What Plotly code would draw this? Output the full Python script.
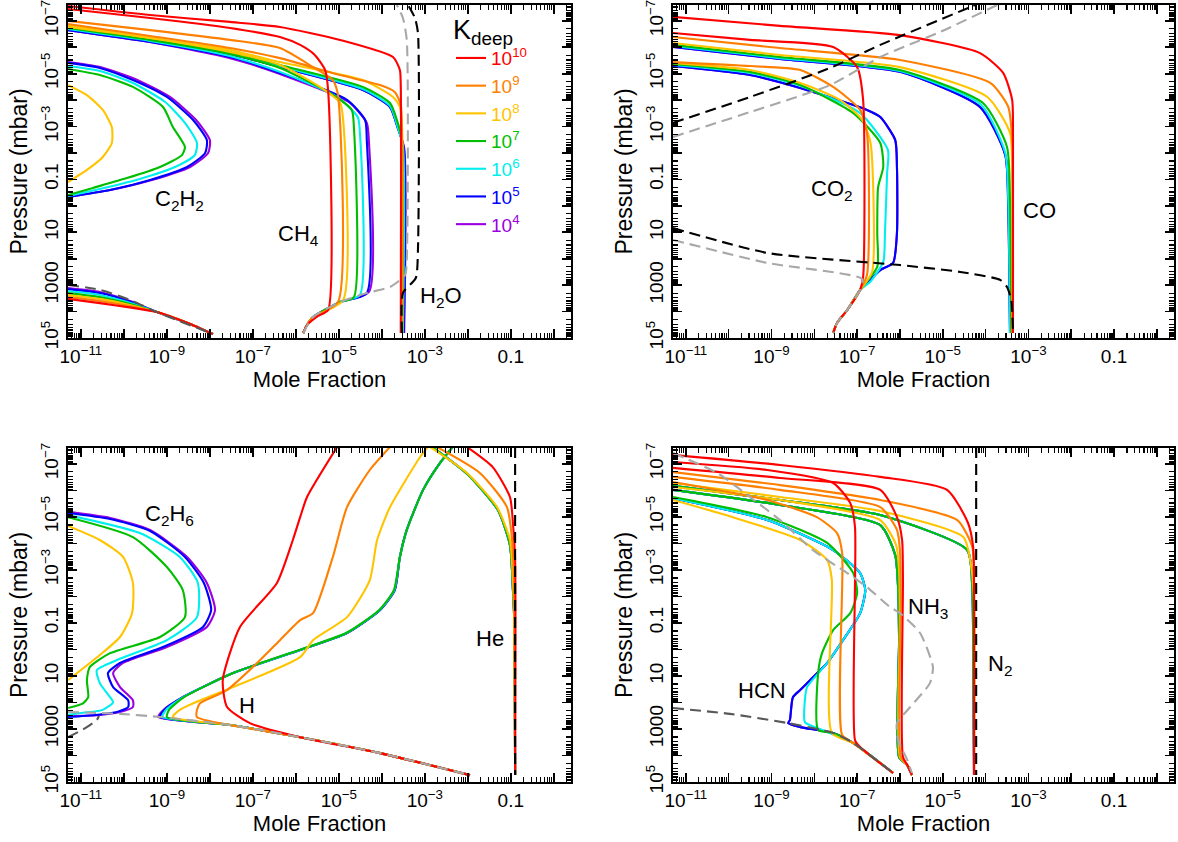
import plotly.graph_objects as go

# ---------------- data (log10 mole fraction, log10 pressure [mbar]) ----------------
K_LIST = [4, 5, 6, 7, 8, 9, 10]
K_COLOR = {10: "#FF0000", 9: "#FF7F00", 8: "#FFC400", 7: "#00BE00",
           6: "#00EEEE", 5: "#0000FF", 4: "#9A00E0"}

X_TICK_EXP = [-11, -10, -9, -8, -7, -6, -5, -4, -3, -2, -1, 0]
X_TICK_TEXT = ["10<sup>−11</sup>", " ", "10<sup>−9</sup>", " ", "10<sup>−7</sup>", " ",
               "10<sup>−5</sup>", " ", "10<sup>−3</sup>", " ", "0.1", " "]
Y_TICK_EXP = [-7, -6, -5, -4, -3, -2, -1, 0, 1, 2, 3, 4, 5]
Y_TICK_TEXT = ["10<sup>−7</sup>", " ", "10<sup>−5</sup>", " ", "10<sup>−3</sup>", " ",
               "0.1", " ", "10", " ", "1000", " ", "10<sup>5</sup>"]

# --- panel 1: C2H2, CH4, H2O ---
C2H2_UPPER = {
    4: ([-11.3, -10.56, -9.74, -8.93, -8.32, -8.0, -8.04, -8.46, -9.35, -10.32, -11.3],
        [-5.44, -5.25, -4.80, -4.12, -3.25, -2.49, -2.0, -1.47, -0.98, -0.60, -0.34]),
    5: ([-11.3, -10.56, -9.79, -9.0, -8.39, -8.07, -8.11, -8.53, -9.39, -10.32, -11.3],
        [-5.41, -5.22, -4.76, -4.12, -3.25, -2.49, -2.0, -1.47, -0.98, -0.60, -0.34]),
    6: ([-11.3, -10.56, -9.79, -9.04, -8.58, -8.30, -8.35, -8.81, -9.63, -10.56, -11.3],
        [-5.29, -5.10, -4.65, -3.93, -3.14, -2.38, -1.92, -1.47, -1.02, -0.64, -0.37]),
    7: ([-11.3, -10.56, -9.79, -9.09, -8.86, -8.58, -8.65, -9.16, -9.93, -10.72, -11.3],
        [-5.18, -4.95, -4.50, -3.74, -2.98, -2.23, -1.92, -1.47, -1.05, -0.68, -0.41]),
    8: ([-11.3, -10.86, -10.49, -10.28, -10.28, -10.49, -10.86, -11.3],
        [-4.57, -4.19, -3.63, -2.98, -2.38, -1.85, -1.36, -0.90]),
}
C2H2_DEEP_X = [-11.3, -10.56, -9.79, -9.23, -8.46, -7.93]
C2H2_DEEP_P = {
    4: [3.11, 3.26, 3.64, 4.02, 4.47, 4.85],
    5: [3.15, 3.30, 3.66, 4.02, 4.47, 4.85],
    6: [3.22, 3.37, 3.70, 4.02, 4.47, 4.85],
    7: [3.30, 3.45, 3.74, 4.02, 4.47, 4.85],
    8: [3.37, 3.52, 3.78, 4.02, 4.47, 4.85],
    9: [3.45, 3.60, 3.82, 4.02, 4.47, 4.85],
    10: [3.52, 3.68, 3.86, 4.02, 4.47, 4.85],
}
C2H2_EQ = ([-11.3, -10.56, -9.86, -9.23, -7.93], [2.99, 3.18, 3.56, 4.02, 4.85])

CH4 = {
    10: ([-11.3, -9.39, -7.53, -6.37, -5.90, -5.56, -5.32, -5.25, -5.25, -5.49, -5.74, -5.83],
         [-7.45, -7.11, -6.73, -6.39, -6.09, -5.71, -5.14, -4.38, 3.94, 4.17, 4.51, 4.81]),
    9: ([-11.3, -9.39, -7.53, -6.37, -5.60, -5.14, -5.02, -5.02, -5.60, -5.74, -5.83],
        [-7.0, -6.65, -6.28, -5.97, -5.25, -4.76, -4.19, 3.64, 4.21, 4.51, 4.81]),
    8: ([-11.3, -9.39, -7.53, -6.37, -5.44, -4.97, -4.90, -4.90, -5.60, -5.74, -5.83],
        [-6.77, -6.35, -5.82, -5.33, -4.50, -3.89, -3.25, 3.56, 4.21, 4.51, 4.81]),
    7: ([-11.3, -9.39, -7.53, -6.37, -5.21, -4.70, -4.65, -4.65, -4.97, -5.60, -5.74, -5.83],
        [-6.73, -6.28, -5.75, -5.22, -4.27, -3.63, -2.98, 3.45, 3.64, 4.21, 4.51, 4.81]),
    6: ([-11.3, -9.39, -7.53, -6.37, -5.04, -4.56, -4.51, -4.51, -4.97, -5.60, -5.74, -5.83],
        [-6.69, -6.24, -5.67, -5.07, -4.12, -3.36, -2.76, 3.37, 3.64, 4.21, 4.51, 4.81]),
    5: ([-11.3, -9.39, -7.53, -6.37, -4.81, -4.39, -4.35, -4.35, -4.97, -5.60, -5.74, -5.83],
        [-6.65, -6.20, -5.63, -5.03, -4.01, -3.25, -2.49, 3.30, 3.64, 4.21, 4.51, 4.81]),
    4: ([-11.3, -9.39, -7.53, -6.37, -4.77, -4.35, -4.30, -4.30, -4.97, -5.60, -5.74, -5.83],
        [-6.65, -6.20, -5.59, -4.99, -3.93, -3.14, -2.42, 3.26, 3.64, 4.21, 4.51, 4.81]),
}
CH4_EQ = ([-5.83, -5.60, -4.97, -4.35, -3.81, -3.46, -3.42, -3.42, -3.51, -3.65],
          [4.81, 4.21, 3.64, 3.30, 3.07, 2.62, 2.05, -6.28, -7.11, -7.6])

H2O = {
    10: ([-11.3, -9.39, -7.53, -6.37, -4.97, -3.74, -3.58, -3.56, -3.56],
         [-7.56, -7.22, -6.96, -6.77, -6.28, -5.63, -5.14, -4.57, 4.81]),
    9: ([-11.3, -9.39, -7.53, -6.37, -4.97, -4.04, -3.70, -3.56, -3.53, -3.53],
        [-6.88, -6.43, -5.97, -5.59, -4.95, -4.57, -4.31, -3.82, -2.49, 4.81]),
    8: ([-11.3, -9.39, -7.53, -6.37, -4.44, -3.74, -3.58, -3.53, -3.53],
        [-6.84, -6.35, -5.90, -5.44, -4.76, -4.12, -3.74, -2.98, 4.81]),
    7: ([-11.3, -9.39, -7.53, -6.37, -4.44, -3.81, -3.63, -3.53, -3.53],
        [-6.81, -6.31, -5.82, -5.33, -4.50, -3.89, -3.14, -2.49, 4.81]),
    6: ([-11.3, -9.39, -7.53, -6.37, -4.44, -3.81, -3.63, -3.51, -3.51],
        [-6.77, -6.28, -5.78, -5.29, -4.42, -3.78, -2.98, -2.27, 4.81]),
    5: ([-11.3, -9.39, -7.53, -6.37, -4.44, -3.81, -3.63, -3.49, -3.49],
        [-6.77, -6.28, -5.75, -5.25, -4.38, -3.74, -2.95, -2.19, 4.81]),
    4: ([-11.3, -9.39, -7.53, -6.37, -4.44, -3.81, -3.63, -3.48, -3.48],
        [-6.77, -6.28, -5.75, -5.25, -4.38, -3.74, -2.95, -2.19, 4.81]),
}
H2O_EQ = ([-3.53, -3.51, -3.21, -3.16, -3.16, -3.23, -3.39],
          [4.81, 3.30, 2.73, 1.67, -6.54, -7.11, -7.6])

# --- panel 2: CO2, CO ---
CO = {
    10: ([-11.3, -8.80, -6.0, -4.13, -3.59, -3.38, -3.36, -3.36],
         [-7.15, -6.81, -6.46, -5.78, -5.03, -4.01, -2.49, 4.81]),
    9: ([-11.3, -8.80, -6.0, -3.89, -3.47, -3.38, -3.38],
        [-6.39, -5.97, -5.52, -4.65, -3.74, -2.49, 4.81]),
    8: ([-11.3, -8.80, -6.0, -3.96, -3.43, -3.38, -3.38],
        [-6.16, -5.71, -5.25, -4.12, -2.76, -0.98, 4.81]),
    7: ([-11.3, -8.80, -6.0, -4.06, -3.50, -3.43, -3.40],
        [-6.09, -5.63, -5.14, -3.89, -2.23, -0.22, 4.81]),
    6: ([-11.3, -8.80, -6.0, -4.10, -3.54, -3.47, -3.43],
        [-6.05, -5.59, -5.10, -3.82, -2.0, -0.22, 4.81]),
    5: ([-11.3, -8.80, -6.0, -4.13, -3.54, -3.47, -3.43],
        [-6.01, -5.56, -5.07, -3.74, -1.92, 0.16, 4.81]),
    4: ([-11.3, -8.80, -6.0, -4.13, -3.54, -3.47, -3.43],
        [-6.01, -5.56, -5.07, -3.74, -1.92, 0.16, 4.81]),
}
CO_EQ_TOP = ([-11.3, -9.50, -7.63, -6.46, -4.36, -4.24], [-3.14, -4.12, -5.22, -6.09, -7.52, -7.6])
CO_EQ_LOW = ([-11.3, -9.10, -6.0, -4.59, -3.66, -3.50, -3.40, -3.36],
             [0.84, 1.78, 2.24, 2.50, 2.80, 3.07, 3.56, 4.81])

CO2 = {
    10: ([-11.3, -9.50, -7.56, -7.0, -6.86, -6.86, -6.93, -7.23, -7.47, -7.56],
         [-6.54, -6.28, -6.01, -5.25, -4.01, 2.69, 3.18, 3.94, 4.43, 4.81]),
    9: ([-11.3, -9.50, -8.33, -7.56, -6.93, -6.77, -6.77, -6.93, -7.23, -7.47, -7.56],
        [-5.44, -5.29, -5.14, -4.50, -3.63, -2.76, 2.62, 3.18, 3.94, 4.43, 4.81]),
    8: ([-11.3, -9.50, -8.33, -7.40, -6.88, -6.70, -6.65, -6.65, -6.93, -7.23, -7.47, -7.56],
        [-5.41, -5.14, -4.65, -4.01, -3.25, -2.49, -1.74, 2.50, 3.18, 3.94, 4.43, 4.81]),
    7: ([-11.3, -9.50, -8.33, -7.09, -6.46, -6.39, -6.51, -6.53, -6.53, -6.93, -7.23, -7.47, -7.56],
        [-5.37, -5.07, -4.57, -3.51, -2.38, -1.47, -0.71, 1.03, 2.31, 3.18, 3.94, 4.43, 4.81]),
    6: ([-11.3, -9.50, -8.33, -6.93, -6.28, -6.30, -6.35, -6.39, -6.70, -6.93, -7.23, -7.47, -7.56],
        [-5.33, -5.03, -4.54, -3.51, -2.11, -1.24, 1.03, 2.12, 2.88, 3.18, 3.94, 4.43, 4.81]),
    5: ([-11.3, -9.50, -8.33, -6.77, -6.46, -6.11, -6.07, -6.07, -6.16, -6.46, -6.77, -6.93, -7.23, -7.47, -7.56],
        [-5.29, -4.95, -4.46, -3.63, -3.36, -2.49, -1.47, 1.03, 2.16, 2.43, 2.92, 3.18, 3.94, 4.43, 4.81]),
    4: ([-11.3, -9.50, -8.33, -6.77, -6.46, -6.11, -6.07, -6.07, -6.16, -6.46, -6.77, -6.93, -7.23, -7.47, -7.56],
        [-5.29, -4.95, -4.46, -3.63, -3.36, -2.49, -1.47, 1.03, 2.16, 2.43, 2.92, 3.18, 3.94, 4.43, 4.81]),
}
CO2_EQ_TOP = ([-11.3, -9.50, -7.63, -6.46, -5.06, -3.73], [-2.61, -3.55, -4.57, -5.63, -6.58, -7.6])
CO2_EQ_LOW = ([-11.3, -9.10, -6.88, -6.93, -7.23, -7.47, -7.56], [1.29, 2.16, 2.77, 3.18, 3.94, 4.43, 4.81])

# --- panel 3: C2H6, H, He ---
C2H6 = {
    4: ([-11.3, -10.32, -9.39, -8.53, -8.07, -7.88, -8.07, -9.0, -10.02, -10.25, -10.09, -9.79, -9.79, -10.09, -10.56, -11.3],
        [-5.19, -4.96, -4.51, -3.49, -2.51, -1.49, -0.85, -0.09, 0.51, 0.89, 1.42, 1.92, 2.17, 2.36, 2.47, 2.51]),
    5: ([-11.3, -10.32, -9.39, -8.58, -8.14, -7.97, -8.16, -9.09, -10.09, -10.37, -10.25, -9.90, -9.90, -10.16, -10.65, -11.3],
        [-5.15, -4.92, -4.47, -3.49, -2.51, -1.49, -0.85, -0.09, 0.51, 0.89, 1.42, 1.92, 2.17, 2.36, 2.47, 2.55]),
    6: ([-11.3, -9.63, -8.70, -8.28, -8.30, -9.0, -10.16, -10.63, -10.56, -10.32, -10.25, -10.49, -10.95, -11.3],
        [-5.07, -4.39, -3.49, -2.51, -1.22, -0.35, 0.40, 0.78, 1.27, 1.80, 1.99, 2.28, 2.39, 2.47]),
    7: ([-11.3, -9.79, -9.0, -8.63, -8.58, -9.16, -10.32, -10.79, -10.86, -10.83, -10.95, -11.3],
        [-4.99, -4.24, -3.11, -2.24, -1.22, -0.47, 0.14, 0.66, 1.16, 1.80, 2.03, 2.21]),
    8: ([-11.3, -10.56, -10.02, -9.79, -9.81, -10.09, -10.56, -11.3],
        [-4.66, -4.13, -3.49, -2.51, -1.37, -0.47, 0.21, 1.16]),
}
C2H6_EQ = ([-11.3, -10.90, -10.63, -10.58], [3.31, 2.97, 2.66, 2.51])

H_TAIL = ([-7.53, -5.90, -4.04, -1.95], [2.85, 3.31, 3.91, 4.74])
H = {
    4: ([-2.35, -2.65, -3.04, -3.42, -3.58, -3.70, -4.04, -4.81, -5.90, -7.46, -8.63, -9.08, -9.20],
        [-7.64, -7.03, -6.02, -4.51, -3.49, -2.24, -1.49, -0.62, 0.02, 0.89, 1.80, 2.28, 2.55]),
    5: ([-2.35, -2.65, -3.04, -3.42, -3.58, -3.70, -4.04, -4.81, -5.90, -7.46, -8.63, -9.06, -9.16],
        [-7.64, -7.03, -6.02, -4.51, -3.49, -2.24, -1.49, -0.62, 0.02, 0.89, 1.80, 2.28, 2.55]),
    6: ([-2.35, -2.65, -3.04, -3.42, -3.58, -3.71, -4.05, -4.82, -5.91, -7.46, -8.62, -9.02, -9.10],
        [-7.64, -7.03, -6.02, -4.51, -3.49, -2.24, -1.49, -0.62, 0.02, 0.89, 1.80, 2.28, 2.55]),
    7: ([-2.35, -2.65, -3.04, -3.42, -3.58, -3.72, -4.06, -4.83, -5.92, -7.46, -8.60, -8.95, -9.0],
        [-7.64, -7.03, -6.02, -4.51, -3.49, -2.24, -1.49, -0.62, 0.02, 0.89, 1.80, 2.28, 2.55]),
    8: ([-2.93, -3.11, -3.81, -4.11, -4.28, -4.81, -5.60, -5.90, -7.46, -8.23, -8.70, -8.86],
        [-7.64, -7.26, -5.37, -4.13, -2.62, -1.22, -0.35, 0.29, 1.42, 1.92, 2.28, 2.55]),
    9: ([-3.81, -4.28, -4.81, -5.14, -5.60, -5.90, -6.37, -6.83, -7.60, -8.23, -8.30, -8.30],
        [-7.64, -6.77, -5.37, -3.49, -1.37, -1.11, -0.35, 0.40, 1.53, 2.03, 2.28, 2.55]),
    10: ([-5.04, -5.74, -5.90, -6.07, -6.44, -7.30, -7.70, -7.60, -7.07],
         [-7.64, -5.75, -4.99, -4.13, -2.51, -0.85, 1.16, 2.17, 2.78]),
}
H_EQ = ([-11.3, -10.09, -9.16, -7.53, -5.90, -4.04, -1.95], [2.36, 2.43, 2.55, 2.85, 3.31, 3.91, 4.74])

HE = {
    10: ([-2.02, -1.42, -1.02, -0.95, -0.90, -0.90], [-7.64, -6.88, -5.75, -4.77, -3.37, 4.74]),
    9: ([-2.72, -1.72, -1.09, -0.97, -0.93, -0.90], [-7.64, -6.66, -5.37, -4.13, -2.62, 4.74]),
    8: ([-2.88, -2.02, -1.32, -1.02, -0.95, -0.92, -0.90], [-7.64, -6.66, -5.37, -4.13, -2.62, -1.11, 4.74]),
    7: ([-2.83, -2.00, -1.30, -1.02, -0.95, -0.92, -0.90], [-7.64, -6.60, -5.26, -3.94, -2.24, -1.11, 4.74]),
    6: ([-2.83, -2.00, -1.30, -1.02, -0.95, -0.92, -0.90], [-7.64, -6.60, -5.26, -3.94, -2.24, -1.11, 4.74]),
    5: ([-2.83, -2.00, -1.30, -1.02, -0.95, -0.92, -0.90], [-7.64, -6.60, -5.26, -3.94, -2.24, -1.11, 4.74]),
    4: ([-2.83, -2.00, -1.30, -1.02, -0.95, -0.92, -0.90], [-7.64, -6.60, -5.26, -3.94, -2.24, -1.11, 4.74]),
}
HE_EQ = ([-0.90, -0.90], [-7.64, 4.74])

# --- panel 4: HCN, NH3, N2 ---
N2 = {
    10: ([-11.3, -8.80, -6.46, -4.90, -4.41, -4.29, -4.27, -4.27], [-7.34, -6.96, -6.51, -6.02, -4.77, -3.86, -1.86, 4.74]),
    9: ([-11.3, -8.80, -6.46, -4.66, -4.31, -4.27, -4.27], [-6.69, -6.20, -5.64, -4.88, -3.86, -2.62, 4.74]),
    8: ([-11.3, -8.80, -6.46, -4.52, -4.34, -4.27, -4.27], [-6.28, -5.75, -5.22, -4.24, -3.19, -1.86, 4.74]),
    7: ([-11.3, -8.80, -6.46, -4.43, -4.31, -4.29, -4.27], [-6.17, -5.64, -5.07, -3.75, -2.24, -0.35, 4.74]),
    6: ([-11.3, -8.80, -6.46, -4.43, -4.31, -4.29, -4.27], [-6.17, -5.64, -5.07, -3.75, -2.24, -0.35, 4.74]),
    5: ([-11.3, -8.80, -6.46, -4.43, -4.31, -4.29, -4.27], [-6.17, -5.64, -5.07, -3.75, -2.24, -0.35, 4.74]),
    4: ([-11.3, -8.80, -6.46, -4.43, -4.31, -4.29, -4.27], [-6.17, -5.64, -5.07, -3.75, -2.24, -0.35, 4.74]),
}
N2_EQ = ([-4.22, -4.22], [-7.64, 4.74])

NH3 = {
    10: ([-11.3, -8.80, -6.46, -6.07, -5.95, -5.93, -5.93, -5.83, -5.72], [-6.85, -6.47, -6.02, -4.99, -4.13, -2.62, 4.06, 4.36, 4.74]),
    9: ([-11.3, -8.80, -6.46, -6.07, -6.0, -5.98, -5.98, -5.83, -5.72], [-6.51, -6.02, -5.37, -4.51, -3.75, -1.86, 4.06, 4.36, 4.74]),
    8: ([-11.3, -8.80, -6.46, -6.09, -6.02, -6.0, -6.0, -5.83, -5.72], [-6.13, -5.64, -4.88, -3.94, -3.0, -1.11, 4.06, 4.36, 4.74]),
    7: ([-11.3, -8.80, -6.46, -6.11, -6.04, -6.02, -6.02, -5.83, -5.72], [-6.02, -5.45, -4.69, -3.56, -2.24, -0.35, 4.06, 4.36, 4.74]),
    6: ([-11.3, -8.80, -6.46, -6.11, -6.04, -6.02, -6.02, -5.83, -5.72], [-6.02, -5.45, -4.69, -3.56, -2.24, -0.35, 4.06, 4.36, 4.74]),
    5: ([-11.3, -8.80, -6.46, -6.11, -6.04, -6.02, -6.02, -5.83, -5.72], [-6.02, -5.45, -4.69, -3.56, -2.24, -0.35, 4.06, 4.36, 4.74]),
    4: ([-11.3, -8.80, -6.46, -6.11, -6.04, -6.02, -6.02, -5.83, -5.72], [-6.02, -5.45, -4.69, -3.56, -2.24, -0.35, 4.06, 4.36, 4.74]),
}
NH3_EQ = ([-11.3, -10.27, -9.50, -8.80, -8.03, -7.23, -6.77, -6.23, -6.0, -5.53, -5.23, -5.30, -5.76, -6.07, -6.04, -5.83, -5.72],
          [-7.41, -6.66, -5.75, -4.88, -3.75, -2.88, -2.35, -1.60, -1.37, -0.62, 0.66, 1.27, 2.17, 2.78, 3.42, 4.17, 4.66])

HCN = {
    10: ([-11.3, -9.10, -7.56, -7.16, -7.05, -7.05, -6.93, -6.16], [-7.07, -6.77, -6.28, -5.52, -4.62, 3.42, 3.68, 4.66]),
    9: ([-11.3, -9.10, -7.94, -7.47, -7.35, -7.35, -7.09, -6.16], [-6.32, -5.64, -4.99, -4.39, -3.64, 3.23, 3.53, 4.66]),
    8: ([-11.3, -9.90, -8.33, -7.70, -7.59, -7.59, -7.09, -6.16], [-5.64, -4.99, -4.13, -3.37, -2.62, 3.15, 3.53, 4.66]),
    7: ([-11.3, -9.10, -7.70, -7.09, -7.0, -7.16, -7.56, -7.82, -7.91, -7.91, -7.56, -7.09, -6.16],
        [-5.75, -4.99, -4.02, -2.88, -2.13, -1.37, -0.73, 0.14, 0.89, 3.04, 3.15, 3.53, 4.66]),
    6: ([-11.3, -9.10, -7.56, -6.93, -6.81, -6.93, -7.33, -7.70, -8.17, -8.22, -8.22, -7.87, -7.09, -6.16],
        [-5.71, -4.88, -3.75, -2.88, -2.24, -1.37, -0.35, 0.51, 1.42, 1.92, 2.74, 3.0, 3.53, 4.66]),
    5: ([-11.3, -9.10, -7.56, -6.93, -6.81, -6.93, -7.33, -7.70, -8.10, -8.33, -8.50, -8.57, -8.61, -8.33, -7.56, -7.09, -6.16],
        [-5.71, -4.88, -3.75, -2.88, -2.24, -1.37, -0.35, 0.51, 1.16, 1.53, 1.80, 2.66, 2.78, 2.93, 3.15, 3.53, 4.66]),
    4: ([-11.3, -9.10, -7.56, -6.93, -6.81, -6.93, -7.33, -7.70, -8.10, -8.33, -8.50, -8.57, -8.61, -8.33, -7.56, -7.09, -6.16],
        [-5.71, -4.88, -3.75, -2.88, -2.24, -1.37, -0.35, 0.51, 1.16, 1.53, 1.80, 2.66, 2.78, 2.93, 3.15, 3.53, 4.66]),
}
HCN_EQ = ([-11.3, -9.97, -8.61, -7.56, -7.09, -6.16], [2.21, 2.43, 2.78, 3.15, 3.53, 4.66])

# ---------------- styling ----------------
FONT = "Liberation Sans, Arial, Helvetica, sans-serif"
BLACK_DASH = "#000000"
GRAY_DASH = "#A8A8A8"
DARK_DASH = "#585858"
DASH = "11px,6px"
LW = 2.1

PANELS = {"TL": ("x", "y"), "TR": ("x2", "y2"), "BL": ("x3", "y3"), "BR": ("x4", "y4")}

fig = go.Figure()


def curve(xy, color, panel, dash=None, width=LW, name=None, legend=False, rank=None):
    lx, lp = xy
    ax = PANELS[panel]
    fig.add_trace(go.Scatter(
        x=[10 ** v for v in lx], y=[10 ** v for v in lp], mode="lines",
        line=dict(color=color, width=width, dash=dash, shape="spline", smoothing=0.6),
        xaxis=ax[0], yaxis=ax[1], showlegend=legend, name=name,
        legendrank=rank if rank is not None else 1000, hoverinfo="skip"))


for k in K_LIST:
    c = K_COLOR[k]
    # panel TL
    if k in C2H2_UPPER:
        curve(C2H2_UPPER[k], c, "TL")
    curve((C2H2_DEEP_X, C2H2_DEEP_P[k]), c, "TL")
    curve(H2O[k], c, "TL")
    curve(CH4[k], c, "TL", name=f'<span style="color:{c}">10<sup>{k}</sup></span>',
          legend=True, rank=20 - k)
    # panel TR
    curve(CO[k], c, "TR")
    curve(CO2[k], c, "TR")
    # panel BL
    if k in C2H6:
        curve(C2H6[k], c, "BL")
    hx, hp = H[k]
    if k == 10:
        curve((hx + H_TAIL[0][1:], hp + H_TAIL[1][1:]), c, "BL")
    else:
        curve((hx + H_TAIL[0], hp + H_TAIL[1]), c, "BL")
    curve(HE[k], c, "BL")
    # panel BR
    curve(N2[k], c, "BR")
    curve(NH3[k], c, "BR")
    curve(HCN[k], c, "BR")

# equilibrium (dashed) profiles
curve(C2H2_EQ, DARK_DASH, "TL", dash=DASH)
curve(CH4_EQ, GRAY_DASH, "TL", dash=DASH)
curve(H2O_EQ, BLACK_DASH, "TL", dash=DASH)
curve(CO2_EQ_TOP, GRAY_DASH, "TR", dash=DASH)
curve(CO2_EQ_LOW, GRAY_DASH, "TR", dash=DASH)
curve(CO_EQ_TOP, BLACK_DASH, "TR", dash=DASH)
curve(CO_EQ_LOW, BLACK_DASH, "TR", dash=DASH)
curve(C2H6_EQ, DARK_DASH, "BL", dash=DASH)
curve(H_EQ, GRAY_DASH, "BL", dash=DASH)
curve(HE_EQ, BLACK_DASH, "BL", dash=DASH)
curve(HCN_EQ, DARK_DASH, "BR", dash=DASH)
curve(NH3_EQ, GRAY_DASH, "BR", dash=DASH)
curve(N2_EQ, BLACK_DASH, "BR", dash=DASH)

# ---------------- axes ----------------
X_MINOR = [m * 10.0 ** e for e in range(-12, 1) for m in range(2, 10)]
Y_MINOR = [m * 10.0 ** e for e in range(-8, 5) for m in range(2, 10)]

DOM_X = {"L": [68 / 1178, 571 / 1178], "R": [673 / 1178, 1174 / 1178]}
DOM_Y = {"T": [1 - 338 / 842, 1 - 5 / 842], "B": [1 - 782 / 842, 1 - 448 / 842]}


def xaxis(dom, anchor):
    return dict(type="log", range=[-11.3, 0.4], domain=dom, anchor=anchor, automargin=False,
                tickmode="array", tickvals=[10.0 ** e for e in X_TICK_EXP], ticktext=X_TICK_TEXT,
                ticks="inside", ticklen=9, tickwidth=1.6, tickcolor="black",
                showline=True, linewidth=2.2, linecolor="black", mirror="allticks",
                showgrid=False, zeroline=False, ticklabeloverflow="allow",
                minor=dict(tickmode="array", tickvals=X_MINOR, ticks="inside", ticklen=5,
                           tickwidth=1.2, tickcolor="black", showgrid=False),
                tickfont=dict(size=19, family=FONT, color="black"),
                title=dict(text="Mole Fraction", font=dict(size=22, family=FONT, color="black"), standoff=4))


def yaxis(dom, anchor):
    return dict(type="log", range=[5.0, -7.6], domain=dom, anchor=anchor, automargin=False,
                tickmode="array", tickvals=[10.0 ** e for e in Y_TICK_EXP], ticktext=Y_TICK_TEXT,
                ticks="inside", ticklen=9, tickwidth=1.6, tickcolor="black", tickangle=-90,
                showline=True, linewidth=2.2, linecolor="black", mirror="allticks",
                showgrid=False, zeroline=False, ticklabeloverflow="allow",
                minor=dict(tickmode="array", tickvals=Y_MINOR, ticks="inside", ticklen=5,
                           tickwidth=1.2, tickcolor="black", showgrid=False),
                tickfont=dict(size=19, family=FONT, color="black"),
                title=dict(text="Pressure (mbar)", font=dict(size=23, family=FONT, color="black"), standoff=4))


# ---------------- species labels ----------------
LABELS = [
    ("x", "y", -8.70, -0.22, "C<sub>2</sub>H<sub>2</sub>"),
    ("x", "y", -5.95, 1.10, "CH<sub>4</sub>"),
    ("x", "y", -2.62, 3.45, "H<sub>2</sub>O"),
    ("x2", "y2", -7.59, -0.60, "CO<sub>2</sub>"),
    ("x2", "y2", -2.73, 0.16, "CO"),
    ("x3", "y3", -8.93, -5.07, "C<sub>2</sub>H<sub>6</sub>"),
    ("x3", "y3", -7.14, 2.10, "H"),
    ("x3", "y3", -1.49, -0.43, "He"),
    ("x4", "y4", -9.22, 1.53, "HCN"),
    ("x4", "y4", -5.34, -1.56, "NH<sub>3</sub>"),
    ("x4", "y4", -3.66, 0.59, "N<sub>2</sub>"),
]
annotations = [dict(x=x, y=y, xref=xr, yref=yr, text=t, showarrow=False,
                    font=dict(size=22, family=FONT, color="black"))
               for xr, yr, x, y, t in LABELS]

fig.update_layout(
    width=1178, height=842, margin=dict(l=0, r=0, t=0, b=0, autoexpand=False),
    paper_bgcolor="white", plot_bgcolor="white",
    font=dict(family=FONT, color="black"),
    hovermode=False,
    xaxis=xaxis(DOM_X["L"], "y"), yaxis=yaxis(DOM_Y["T"], "x"),
    xaxis2=xaxis(DOM_X["R"], "y2"), yaxis2=yaxis(DOM_Y["T"], "x2"),
    xaxis3=xaxis(DOM_X["L"], "y3"), yaxis3=yaxis(DOM_Y["B"], "x3"),
    xaxis4=xaxis(DOM_X["R"], "y4"), yaxis4=yaxis(DOM_Y["B"], "x4"),
    annotations=annotations,
    legend=dict(x=451 / 1178, y=1 - 4 / 842, xanchor="left", yanchor="top",
                bgcolor="rgba(0,0,0,0)", borderwidth=0,
                title=dict(text="K<sub>deep</sub>", font=dict(size=27, family=FONT, color="black")),
                font=dict(size=19, family=FONT), itemwidth=30, tracegroupgap=0),
)

fig.write_html("out.html", config={"displayModeBar": False, "staticPlot": True},
               post_script="document.body.style.margin='0px';document.body.style.overflow='hidden';")
